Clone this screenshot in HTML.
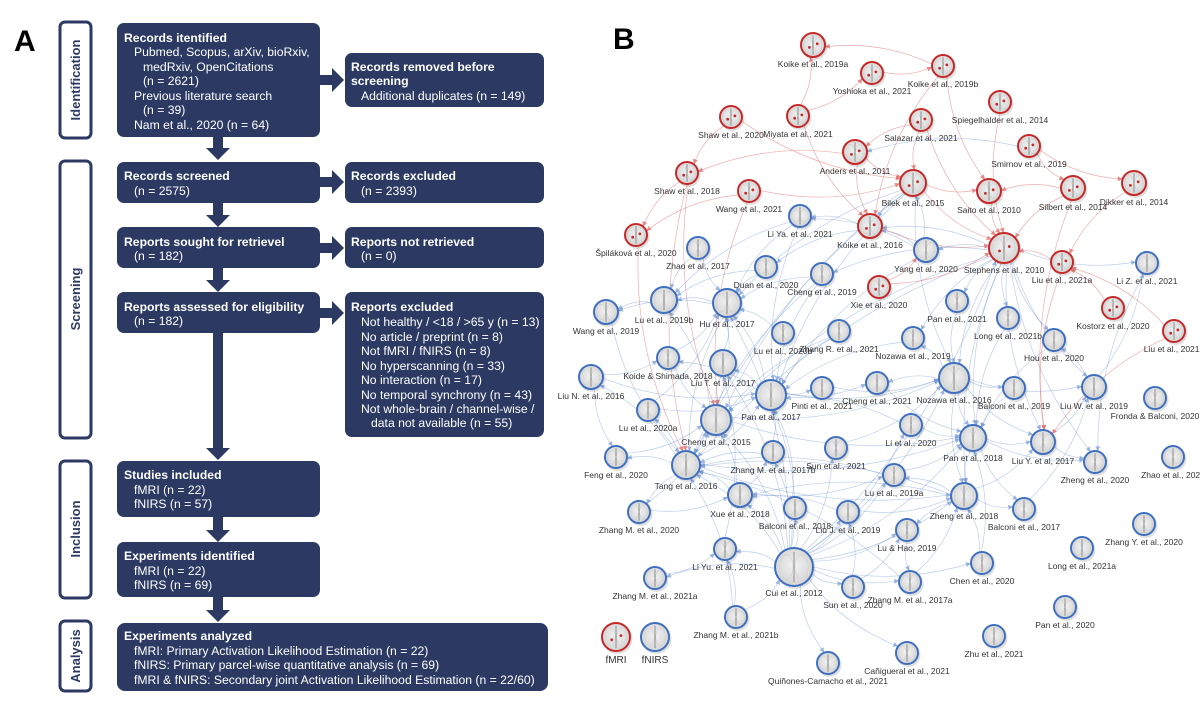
<!DOCTYPE html>
<html><head><meta charset="utf-8"><style>
html,body{margin:0;padding:0;background:#fff;}
svg{display:block;font-family:"Liberation Sans",Arial,sans-serif;}
.bx{fill:#2c3a63;}
.ht{fill:#fff;font-size:12.2px;font-weight:bold;}
.st{fill:#fff;font-size:12.2px;}
.side{fill:#fff;stroke:#2c3a63;stroke-width:3;}
.sl{fill:#2c3a63;font-size:13px;font-weight:bold;}
.nl{fill:#333;font-size:8.5px;}
</style></head><body>
<svg id="root" width="1200" height="709" viewBox="0 0 1200 709">
<defs>
<radialGradient id="brain" cx="50%" cy="45%" r="55%"><stop offset="0" stop-color="#f2f2f2"/><stop offset="1" stop-color="#d4d4d4"/></radialGradient>
</defs>
<!-- Panel A -->
<g>
<text x="14" y="51" font-size="30" font-weight="bold" fill="#000">A</text>

<rect class="side" x="60" y="22" width="31" height="116" rx="5"/>
<text class="sl" transform="translate(80,80) rotate(-90)" text-anchor="middle">Identification</text>
<rect class="side" x="60" y="161" width="31" height="277" rx="5"/>
<text class="sl" transform="translate(80,299) rotate(-90)" text-anchor="middle">Screening</text>
<rect class="side" x="60" y="461" width="31" height="137" rx="5"/>
<text class="sl" transform="translate(80,529) rotate(-90)" text-anchor="middle">Inclusion</text>
<rect class="side" x="60" y="621" width="31" height="70" rx="5"/>
<text class="sl" transform="translate(80,656) rotate(-90)" text-anchor="middle">Analysis</text>

<g fill="#2c3a63">
<path d="M213,137h10v11h7l-12,12l-12,-12h7z"/>
<path d="M213,203h10v12h7l-12,12l-12,-12h7z"/>
<path d="M213,268h10v12h7l-12,12l-12,-12h7z"/>
<path d="M213,333h10v115h7l-12,12l-12,-12h7z"/>
<path d="M213,517h10v13h7l-12,12l-12,-12h7z"/>
<path d="M213,597h10v13h7l-12,12l-12,-12h7z"/>
<path d="M320,75h12v-7l12,12l-12,12v-7h-12z"/>
<path d="M320,177h12v-7l12,12l-12,12v-7h-12z"/>
<path d="M320,243h12v-7l12,12l-12,12v-7h-12z"/>
<path d="M320,308h12v-7l12,12l-12,12v-7h-12z"/>
</g>

<g>
<rect class="bx" x="117" y="23" width="203" height="114" rx="7"/>
<text class="ht" x="124" y="42">Records itentified</text>
<text class="st" x="134" y="56">Pubmed, Scopus, arXiv, bioRxiv,</text>
<text class="st" x="143" y="71">medRxiv, OpenCitations</text>
<text class="st" x="143" y="85">(n = 2621)</text>
<text class="st" x="134" y="100">Previous literature search</text>
<text class="st" x="143" y="114">(n = 39)</text>
<text class="st" x="134" y="129">Nam et al., 2020 (n = 64)</text>
</g>
<g>
<rect class="bx" x="345" y="53" width="199" height="54" rx="7"/>
<text class="ht" x="351" y="71">Records removed before</text>
<text class="ht" x="351" y="85">screening</text>
<text class="st" x="361" y="100">Additional duplicates (n = 149)</text>
</g>
<g>
<rect class="bx" x="117" y="162" width="203" height="41" rx="7"/>
<text class="ht" x="124" y="180">Records screened</text>
<text class="st" x="134" y="195">(n = 2575)</text>
</g>
<g>
<rect class="bx" x="345" y="162" width="199" height="41" rx="7"/>
<text class="ht" x="351" y="180">Records excluded</text>
<text class="st" x="361" y="195">(n = 2393)</text>
</g>
<g>
<rect class="bx" x="117" y="227" width="203" height="41" rx="7"/>
<text class="ht" x="124" y="246">Reports sought for retrievel</text>
<text class="st" x="134" y="260">(n = 182)</text>
</g>
<g>
<rect class="bx" x="345" y="227" width="199" height="41" rx="7"/>
<text class="ht" x="351" y="246">Reports not retrieved</text>
<text class="st" x="361" y="260">(n = 0)</text>
</g>
<g>
<rect class="bx" x="117" y="292" width="203" height="41" rx="7"/>
<text class="ht" x="124" y="311">Reports assessed for eligibility</text>
<text class="st" x="134" y="325">(n = 182)</text>
</g>
<g>
<rect class="bx" x="345" y="292" width="199" height="145" rx="7"/>
<text class="ht" x="351" y="311">Reports excluded</text>
<text class="st" x="361" y="326">Not healthy / &lt;18 / &gt;65 y (n = 13)</text>
<text class="st" x="361" y="341">No article / preprint (n = 8)</text>
<text class="st" x="361" y="355">Not fMRI / fNIRS (n = 8)</text>
<text class="st" x="361" y="370">No hyperscanning (n = 33)</text>
<text class="st" x="361" y="384">No interaction (n = 17)</text>
<text class="st" x="361" y="399">No temporal synchrony (n = 43)</text>
<text class="st" x="361" y="413">Not whole-brain / channel-wise /</text>
<text class="st" x="371" y="427">data not available (n = 55)</text>
</g>
<g>
<rect class="bx" x="117" y="461" width="203" height="56" rx="7"/>
<text class="ht" x="124" y="479">Studies included</text>
<text class="st" x="134" y="494">fMRI (n = 22)</text>
<text class="st" x="134" y="508">fNIRS (n = 57)</text>
</g>
<g>
<rect class="bx" x="117" y="542" width="203" height="55" rx="7"/>
<text class="ht" x="124" y="560">Experiments identified</text>
<text class="st" x="134" y="575">fMRI (n = 22)</text>
<text class="st" x="134" y="589">fNIRS (n = 69)</text>
</g>
<g>
<rect class="bx" x="117" y="623" width="431" height="68" rx="8"/>
<text class="ht" x="124" y="640">Experiments analyzed</text>
<text class="st" x="134" y="655">fMRI: Primary Activation Likelihood Estimation (n = 22)</text>
<text class="st" x="134" y="669">fNIRS: Primary parcel-wise quantitative analysis (n = 69)</text>
<text class="st" x="134" y="684">fMRI &amp; fNIRS: Secondary joint Activation Likelihood Estimation (n = 22/60)</text>
</g>
</g>

<!-- Panel B -->
<g>
<text x="613" y="49" font-size="30" font-weight="bold" fill="#000">B</text>
<g id="edges"></g>
<g id="nodes"></g>
<g>
<g id="legf"></g>
<g id="legn"></g>
<text x="616" y="663" font-size="10" fill="#333" text-anchor="middle">fMRI</text>
<text x="655" y="663" font-size="10" fill="#333" text-anchor="middle">fNIRS</text>
</g>
</g>
</svg>
<script>
const nodeKeys=["k19a","yos","k19b","spi","sh20","miy","sal","and","smi","sh18","wa21","bil","sai","sil","dik","spl","k16","ste","l21a","xie","kos","l21b",
"liya","zh17","yan","liz","dua","ch19","l19b","hu","wa19","pa21","lo21b","l20b","zr21","no19","hou","koi","lt17","ln16","pa17","pin","ch21","no16","ba19","lw19","fro","l20a","ch15","li20","pa18","ly17","zg20","zo21","fen","tan","z17b","su21","l19a","xue","zg18","ba18","lj19","ba17","zm20","lh19","zy20","lyu21","lo21a","cui","che20","z21a","su20","z17a","z21b","pa20","zhu","can","qui"];
const nodeLabels=["Koike et al., 2019a","Yoshioka et al., 2021","Koike et al., 2019b","Spiegelhalder et al., 2014","Shaw et al., 2020","Miyata et al., 2021","Salazar et al., 2021","Anders et al., 2011","Smirnov et al., 2019","Shaw et al., 2018","Wang et al., 2021","Bilek et al., 2015","Saito et al., 2010","Silbert et al., 2014","Dikker et al., 2014","Špiláková et al., 2020","Koike et al., 2016","Stephens et al., 2010","Liu et al., 2021a","Xie et al., 2020","Kostorz et al., 2020","Liu et al., 2021b",
"Li Ya. et al., 2021","Zhao et al., 2017","Yang et al., 2020","Li Z. et al., 2021","Duan et al., 2020","Cheng et al., 2019","Lu et al., 2019b","Hu et al., 2017","Wang et al., 2019","Pan et al., 2021","Long et al., 2021b","Lu et al., 2020b","Zhang R. et al., 2021","Nozawa et al., 2019","Hou et al., 2020","Koide & Shimada, 2018","Liu T. et al., 2017","Liu N. et al., 2016","Pan et al., 2017","Pinti et al., 2021","Cheng et al., 2021","Nozawa et al., 2016","Balconi et al., 2019","Liu W. et al., 2019","Fronda & Balconi, 2020","Lu et al., 2020a","Cheng et al., 2015","Li  et al., 2020","Pan et al., 2018","Liu Y. et al, 2017","Zheng et al., 2020","Zhao et al., 2021","Feng et al., 2020","Tang et al., 2016","Zhang M. et al., 2017b","Sun et al., 2021","Lu et al., 2019a","Xue et al., 2018","Zheng et al., 2018","Balconi et al., 2018","Liu J. et al., 2019","Balconi et al., 2017","Zhang M. et al., 2020","Lu & Hao, 2019","Zhang Y. et al., 2020","Li Yu. et al., 2021","Long et al., 2021a","Cui et al., 2012","Chen et al., 2020","Zhang M. et al., 2021a","Sun et al., 2020","Zhang M. et al., 2017a","Zhang M. et al., 2021b","Pan et al., 2020","Zhu et al., 2021","Cañigueral et al., 2021","Quiñones-Camacho et al., 2021"];
const nodeModality=["f","f","f","f","f","f","f","f","f","f","f","f","f","f","f","f","f","f","f","f","f","f",
"n","n","n","n","n","n","n","n","n","n","n","n","n","n","n","n","n","n","n","n","n","n","n","n","n","n","n","n","n","n","n","n","n","n","n","n","n","n","n","n","n","n","n","n","n","n","n","n","n","n","n","n","n","n","n","n","n"];
const nodeX=[813,872,943,1000,731,798,921,855,1029,687,749,913,989,1073,1134,636,870,1004,1062,879,1113,1174,
800,698,926,1147,766,822,664,727,606,957,1008,783,839,913,1054,668,723,591,771,822,877,954,1014,1094,1155,648,716,911,973,1043,1095,1173,616,686,773,836,894,740,964,795,848,1024,639,907,1144,725,1082,794,982,655,853,910,736,1065,994,907,828];
const nodeY=[45,73,66,102,117,116,120,152,146,173,191,183,191,188,183,235,226,248,262,287,308,331,
216,248,250,263,267,274,300,303,312,301,318,333,331,338,340,358,363,377,395,388,383,378,388,387,398,410,420,425,438,442,462,457,457,465,452,448,475,495,496,508,512,509,512,530,524,549,548,567,563,578,587,582,617,607,636,653,663];
const nodeR=[12,11,11,11,11,11,11,12,11,11,11,13,12,12,12,11,12,15,11,11,11,11,
11,11,12,11,11,11,13,14,12,11,11,11,11,11,11,11,13,12,15,11,11,15,11,12,11,11,15,11,13,12,11,11,11,14,11,11,11,12,13,11,11,11,11,11,11,11,11,19,11,11,11,11,11,11,11,11,11];
const blueEdges=["l19b-wa19","hu-l19b","hu-wa19","ln16-koi","ln16-pa17","pa17-hu","ch15-hu","ch15-l19b","tan-ch15","tan-pa17","tan-fen","tan-zm20","tan-l20a","tan-ln16","cui-tan","cui-ch15","cui-pa17","cui-xue","cui-ba18","cui-lj19","cui-z17b","cui-su21","cui-li20","cui-pa18","cui-zg18","cui-ste","cui-no16","cui-lyu21","cui-su20","cui-z17a","cui-che20","cui-can","cui-qui","cui-z21a","cui-l19a","cui-lh19","cui-lt17","cui-hu","ste-yan","ste-no16","ste-pa18","ste-zg18","ste-ly17","ste-lo21b","ste-pa21","ste-hou","ste-liz","ste-k16","ste-ch19","ste-lw19","ste-no19","ste-zg20","yan-k16","yan-bil","yan-liya","k16-liya","k16-dua","bil-pa17","bil-ch15","bil-no16","bil-tan","pa17-no16","pa17-pin","pa17-ch21","pa17-lt17","pa17-koi","no16-pa18","no16-zg18","no16-ly17","no16-ba19","no16-lw19","no16-no19","no16-ch21","pa18-ly17","pa18-zg18","pa18-ba17","pa18-zg20","zg18-ly17","zg18-ba17","zg18-lh19","zg18-l19a","zg18-xue","zg18-tan","ly17-lw19","ly17-zg20","lw19-hou","lw19-liz","xue-tan","xue-ch15","xue-l19a","xue-z17b","z17b-pa17","z17b-tan","lj19-xue","lj19-zg18","lh19-z17a","su20-lj19","su20-lh19","z21b-lyu21","z21b-tan","z21a-lyu21","lyu21-lt17","l20a-hu","l20a-pa17","fen-ch15","zm20-ch15","zm20-xue","ch19-hu","ch19-pa17","dua-hu","dua-l19b","liya-hu","liya-l19b","liya-pa17","zh17-l19b","zh17-hu","koi-hu","lt17-hu","lt17-ch15","ch15-pa18","ch15-no16","tan-pa18","tan-zg18","pin-no16","ch21-pa18","li20-pa18","li20-pa17","su21-no16","l19a-pa18","l19a-tan","zr21-ch15","zr21-pa17","l20b-hu","no19-pa17","pa21-no16","lo21b-pa18","hou-pa18","ba19-pa18","ba17-lw19","che20-zg18","che20-pa18","z17a-tan","z17a-zg18","smi-and","liz-zg20","bil-hu","ste-tan","ste-ch15","wa19-tan","ln16-fen","ba18-pa17","z21b-cui","yan-pa17","bil-k16","ch19-tan","hu-tan","koi-ch15"];
const redEdges=["k19b-k19a","yos-k19b","miy-k19a","miy-yos","miy-k16","sh20-sh18","sh20-bil","k19b-sai","k19b-k16","sal-and","sal-bil","sal-ste","spi-ste","smi-dik","smi-sil","and-sh18","and-bil","sh18-spl","wa21-bil","wa21-spl","k16-ste","bil-ste","bil-sai","sil-ste","l21a-ste","l21b-l21a","kos-l21a","xie-yan","xie-ste","sai-ste","sh18-ch15","spl-tan","sil-ly17","l21a-ly17","l21b-ly17","dik-l21a","sil-sai","and-k16","wa21-ch15","sh18-tan"];

const NS="http://www.w3.org/2000/svg";
const idx={};nodeKeys.forEach((k,i)=>idx[k]=i);
function mk(tag,attrs,parent){const e=document.createElementNS(NS,tag);for(const a in attrs)e.setAttribute(a,attrs[a]);parent.appendChild(e);return e;}
const gE=document.getElementById('edges');
function drawEdge(s,color,op,w){
  const [a,b]=s.split('-');const i=idx[a],j=idx[b];if(i===undefined||j===undefined)return;
  const x1=nodeX[i],y1=nodeY[i],x2=nodeX[j],y2=nodeY[j];
  const dx=x2-x1,dy=y2-y1,L=Math.hypot(dx,dy)||1;
  const cx=(x1+x2)/2-dy*0.12,cy=(y1+y2)/2+dx*0.12;
  const ux=dx/L,uy=dy/L;
  const sx=x1+ux*nodeR[i],sy=y1+uy*nodeR[i],ex=x2-ux*nodeR[j],ey=y2-uy*nodeR[j];
  const p=mk('path',{d:`M${sx},${sy}Q${cx},${cy} ${ex},${ey}`,fill:'none',stroke:color,'stroke-opacity':op,'stroke-width':w},gE);
  
  
  const tx=ex-cx,ty=ey-cy,tl=Math.hypot(tx,ty)||1,vx=tx/tl,vy=ty/tl;
  mk('path',{d:`M${ex},${ey}L${ex-vx*5-vy*2.5},${ey-vy*5+vx*2.5}L${ex-vx*5+vy*2.5},${ey-vy*5-vx*2.5}Z`,fill:color,'fill-opacity':op+0.2},gE);
}
blueEdges.forEach(s=>drawEdge(s,'#6f93d2',0.45,0.7));
redEdges.forEach(s=>drawEdge(s,'#e06a6a',0.55,0.7));

function drawNode(g,x,y,r,t){
  const col=t==='f'?'#c62828':'#3f6fbf';
  mk('circle',{cx:x+1.5,cy:y+2,r:r+1,fill:'#000','fill-opacity':0.12},g);
  mk('circle',{cx:x,cy:y,r:r,fill:'url(#brain)',stroke:col,'stroke-width':2},g);
  mk('line',{x1:x,y1:y-r*0.8,x2:x,y2:y+r*0.8,stroke:'#777','stroke-width':0.8},g);
  mk('ellipse',{cx:x-r*0.4,cy:y,rx:r*0.35,ry:r*0.65,fill:'none',stroke:'#ccc','stroke-width':0.5},g);
  mk('ellipse',{cx:x+r*0.4,cy:y,rx:r*0.35,ry:r*0.65,fill:'none',stroke:'#ccc','stroke-width':0.5},g);
  if(t==='f'){mk('circle',{cx:x-r*0.3,cy:y+r*0.2,r:1.4,fill:col},g);mk('circle',{cx:x+r*0.35,cy:y-r*0.1,r:1.4,fill:col},g);}
}
const gN=document.getElementById('nodes');
nodeKeys.forEach((k,i)=>{
  const g=mk('g',{},gN);
  
  
  drawNode(g,nodeX[i],nodeY[i],nodeR[i],nodeModality[i]);
  const t=mk('text',{x:nodeX[i],y:nodeY[i]+nodeR[i]+10,'text-anchor':'middle',class:'nl'},g);
  t.textContent=nodeLabels[i];
  
  
});
drawNode(document.getElementById('legf'),616,637,14,'f');
drawNode(document.getElementById('legn'),655,637,14,'n');
</script>
</body></html>
